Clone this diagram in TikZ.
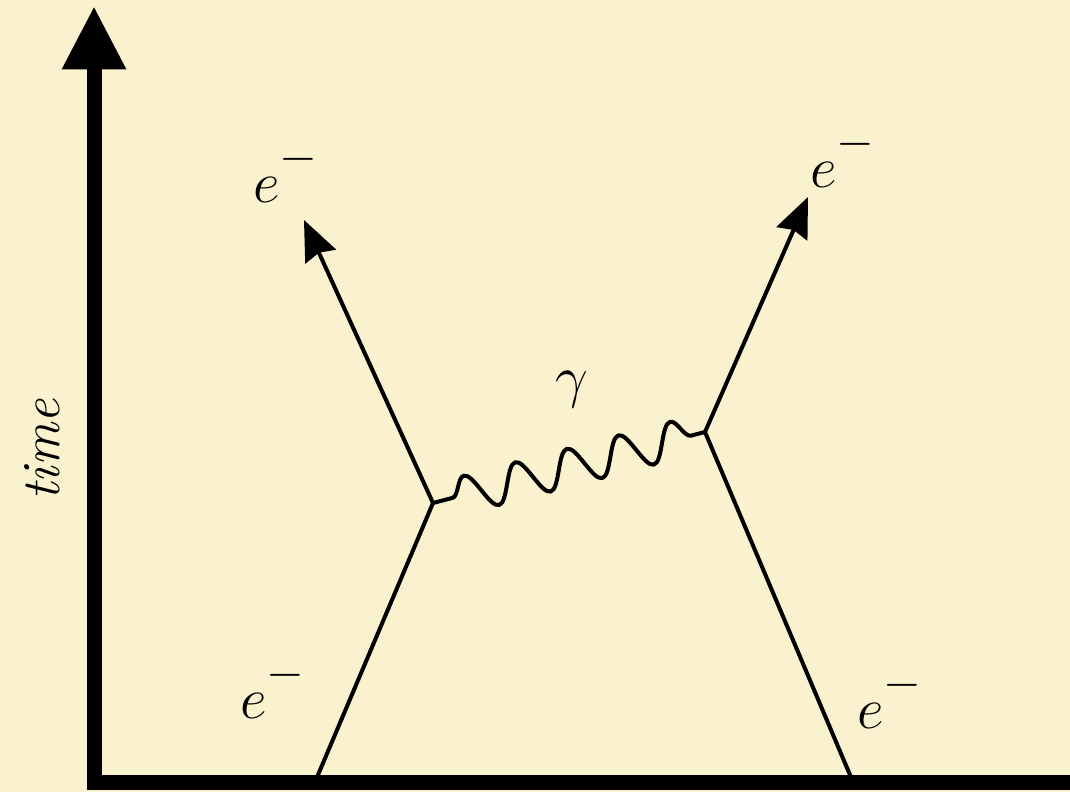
\documentclass[tikz,border=0pt]{standalone}
\usetikzlibrary{arrows.meta,decorations.pathmorphing}
\definecolor{bgcream}{RGB}{250,241,206}
\newcommand{\elec}{$e^{\raisebox{0.4ex}{$\scriptstyle-$}}$}
\begin{document}
\begin{tikzpicture}[x=0.03cm,y=-0.03cm,
  axisline/.style={line width=0.45cm, line join=miter, -{Triangle[length=1.9cm,width=1.8cm]}},
  fermion/.style={line width=0.12cm},
  fermionout/.style={line width=0.12cm, -{Stealth[length=1.2cm,width=1.0cm,inset=0.12cm]}},
  photon/.style={line width=0.12cm, line join=round, decorate,
    decoration={snake, segment length=1.6cm, amplitude=0.56cm, pre length=0.6cm, post length=0.4cm}},
  lbl/.style={inner sep=0pt, font=\Huge, scale=2}]
\fill[bgcream] (0,0) rectangle (1070,792);
\useasboundingbox (0,0) rectangle (1070,792);
% axes
\coordinate (xend) at (1075,782);
\coordinate (orig) at (94,782);
\coordinate (ytop) at (94,6);
\draw[axisline] (xend) -- (orig) -- (ytop);
\node[rotate=90, inner sep=0pt, font=\fontsize{46}{55}\selectfont\itshape] (time) at (42,450) {time};
% vertices
\coordinate (v1) at (433,503);
\coordinate (v2) at (705,432);
\coordinate (in1) at (315,782);
\coordinate (in2) at (853,782);
\coordinate (out1) at (304,220);
\coordinate (out2) at (808,197);
\draw[fermion] (in1) -- (v1);
\draw[fermion] (in2) -- (v2);
\draw[fermionout] (v1) -- (out1);
\draw[fermionout] (v2) -- (out2);
\draw[photon] (v1) -- (v2);
% labels
\node[lbl] (eout1) at (286,173) {\elec};
\node[lbl] (eout2) at (843,158) {\elec};
\node[lbl] (ein1) at (273,689) {\elec};
\node[lbl] (ein2) at (890,699) {\elec};
\node[lbl] (gamma) at (572,390) {$\gamma$};
\end{tikzpicture}
\end{document}
